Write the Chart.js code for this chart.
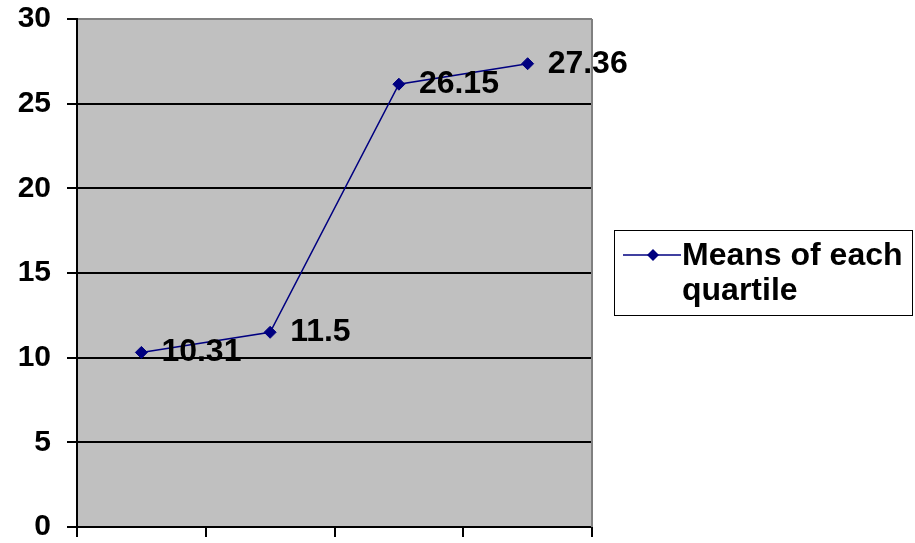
<!DOCTYPE html>
<html>
<head>
<meta charset="utf-8">
<script src="https://cdn.jsdelivr.net/npm/chart.js@4/dist/chart.umd.min.js"></script>
<style>
    body { margin: 0; background: #fff; }
    #wrap { position: relative; width: 915px; height: 543px; }
    #legend {
        position: absolute;
        left: 614px; top: 230px;
        width: 297px; height: 84px;
        border: 1px solid #000;
        font: bold 32px "Liberation Sans", Arial, sans-serif;
        color: #000;
    }
    #legend svg { position: absolute; left: 8px; top: 15px; }
    #legend .txt { position: absolute; left: 67px; top: 6px; line-height: 35px; white-space: nowrap; }
</style>
</head>
<body>
<div id="wrap">
    <canvas id="chart" width="915" height="543"></canvas>
    <div id="legend">
        <svg width="60" height="18">
            <line x1="0" y1="9" x2="58" y2="9" stroke="#000080" stroke-width="1.5"/>
            <polygon points="30,3 36,9 30,15 24,9" fill="#000080"/>
        </svg>
        <div class="txt" id="legend_text"></div>
    </div>
</div>
<script>
// ========== DATA ==========
const categories = ['Q1', 'Q2', 'Q3', 'Q4'];
const meanValues = [10.31, 11.5, 26.15, 27.36];
const seriesName = 'Means of each quartile';
const yTicks = [0, 5, 10, 15, 20, 25, 30];

const FONT = '"Liberation Sans", Arial, sans-serif';
const LINE_COLOR = '#000080';

document.getElementById('legend_text').innerHTML = 'Means of each<br>quartile';

// gray plot background + gray right border
const plotBackground = {
    id: 'plotBackground',
    beforeDraw(chart) {
        const { ctx, chartArea: a } = chart;
        ctx.save();
        ctx.fillStyle = '#C0C0C0';
        ctx.fillRect(a.left, a.top, a.right - a.left, a.bottom - a.top);
        ctx.restore();
    },
    beforeDatasetsDraw(chart) {
        const { ctx, chartArea: a } = chart;
        ctx.save();
        ctx.strokeStyle = '#808080';
        ctx.lineWidth = 2;
        ctx.beginPath();
        ctx.moveTo(a.right, a.top);
        ctx.lineTo(a.right, a.bottom);
        ctx.stroke();
        ctx.restore();
    }
};

// value labels to the right of each point
const valueLabels = {
    id: 'valueLabels',
    afterDatasetsDraw(chart) {
        const ctx = chart.ctx;
        const meta = chart.getDatasetMeta(0);
        ctx.save();
        ctx.font = 'bold 32px ' + FONT;
        ctx.fillStyle = '#000';
        ctx.textAlign = 'left';
        ctx.textBaseline = 'middle';
        meta.data.forEach((pt, i) => {
            ctx.fillText(String(meanValues[i]), pt.x + 20, pt.y);
        });
        ctx.restore();
    }
};

new Chart(document.getElementById('chart').getContext('2d'), {
    type: 'line',
    data: {
        labels: categories,
        datasets: [{
            label: seriesName,
            data: meanValues,
            borderColor: LINE_COLOR,
            backgroundColor: LINE_COLOR,
            borderWidth: 1.5,
            tension: 0,
            pointStyle: 'rectRot',
            pointRadius: 6,
            pointBorderWidth: 1,
            pointBackgroundColor: LINE_COLOR,
            pointBorderColor: LINE_COLOR,
            clip: false
        }]
    },
    options: {
        responsive: false,
        animation: false,
        layout: { padding: { top: 19, right: 323, bottom: 6, left: 0 } },
        plugins: {
            legend: { display: false },
            tooltip: { enabled: false }
        },
        scales: {
            x: {
                type: 'category',
                offset: true,
                afterFit(scale) {
                    scale.height = 10;
                    scale.paddingLeft = 0;
                    scale.paddingRight = 0;
                },
                grid: {
                    offset: true,
                    drawOnChartArea: false,
                    tickLength: 10,
                    tickColor: '#000',
                    lineWidth: 2
                },
                border: { color: '#000', width: 2 },
                ticks: { display: false }
            },
            y: {
                min: 0,
                max: 30,
                afterFit(scale) {
                    scale.width = 77;
                    scale.paddingTop = 0;
                    scale.paddingBottom = 0;
                },
                afterBuildTicks(scale) { scale.ticks = yTicks.map(v => ({ value: v })); },
                grid: {
                    color: ctx => (ctx.tick && ctx.tick.value === 30 ? '#808080' : '#000'),
                    tickColor: '#000',
                    tickLength: 10,
                    lineWidth: 2
                },
                border: { color: '#000', width: 2 },
                ticks: {
                    padding: 16,
                    color: '#000',
                    font: { family: FONT, size: 30, weight: 'bold' }
                }
            }
        }
    },
    plugins: [plotBackground, valueLabels]
});
</script>
</body>
</html>
